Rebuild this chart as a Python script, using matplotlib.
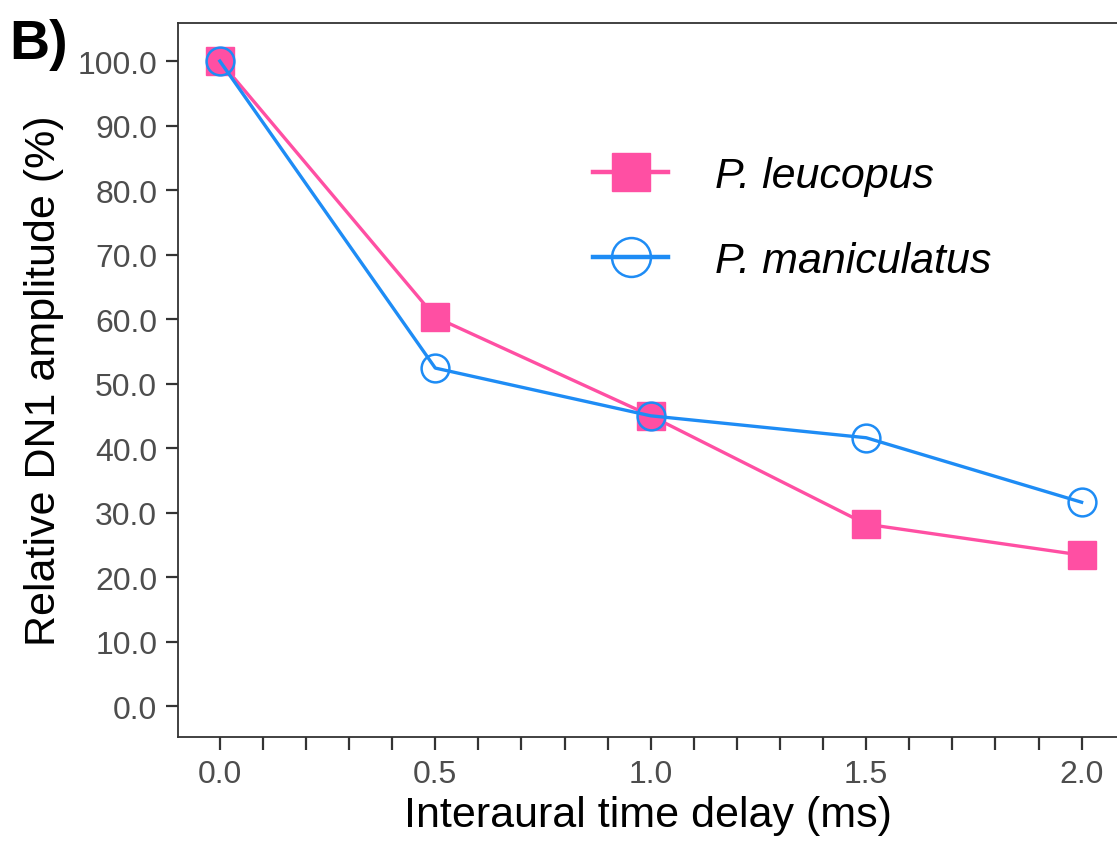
import matplotlib
matplotlib.use("Agg")
import matplotlib.pyplot as plt
from matplotlib.ticker import MultipleLocator, FormatStrFormatter

delay = [0.0, 0.5, 1.0, 1.5, 2.0]
leucopus = [100.0, 60.3, 45.0, 28.2, 23.4]
maniculatus = [100.0, 52.4, 45.0, 41.6, 31.6]
yticks = [0, 10, 20, 30, 40, 50, 60, 70, 80, 90, 100]
xticks = [0.0, 0.5, 1.0, 1.5, 2.0]

pink = "#ff4fa3"
blue = "#1e8cf5"

plt.rcParams['font.family'] = ['Liberation Sans', 'DejaVu Sans']
fig = plt.figure(figsize=(11.17, 8.45), dpi=100)
ax = fig.add_axes([0.1594, 0.1266, 0.8417, 0.845])

ax.plot(delay, leucopus, color=pink, lw=2.4, marker='s', ms=20, mfc=pink, mec=pink,
        label='P. leucopus', zorder=3)
ax.plot(delay, maniculatus, color=blue, lw=2.4, marker='o', ms=20, mfc='none', mec=blue,
        mew=1.8, label='P. maniculatus', zorder=4)

ax.set_xlim(-0.097, 2.085)
ax.set_ylim(-4.8, 105.9)
ax.set_yticks(yticks)
ax.yaxis.set_major_formatter(FormatStrFormatter('%.1f'))
ax.set_xticks(xticks)
ax.xaxis.set_major_formatter(FormatStrFormatter('%.1f'))
ax.xaxis.set_minor_locator(MultipleLocator(0.1))
ax.tick_params(axis='both', which='both', length=9, width=1.6, color='#333333',
               labelsize=23, labelcolor='#4d4d4d')
ax.tick_params(axis='y', pad=6)
ax.tick_params(axis='x', pad=7)
for s in ax.spines.values():
    s.set_linewidth(1.3)
    s.set_color('#333333')

ax.set_xlabel('Interaural time delay (ms)', fontsize=31, labelpad=4)
ax.set_ylabel('Relative DN1 amplitude (%)', fontsize=31, labelpad=10)

leg = ax.legend(loc='upper left', bbox_to_anchor=(0.40, 0.868), frameon=False,
                prop={'size': 31, 'style': 'italic'}, handlelength=1.75,
                labelspacing=1.05, markerscale=1.4, handletextpad=1.08)
for h in leg.get_lines():
    h.set_linewidth(3.2)

fig.text(0.008, 0.93, 'B)', fontsize=40, fontweight='bold')

fig.savefig('out.png', dpi=100)
